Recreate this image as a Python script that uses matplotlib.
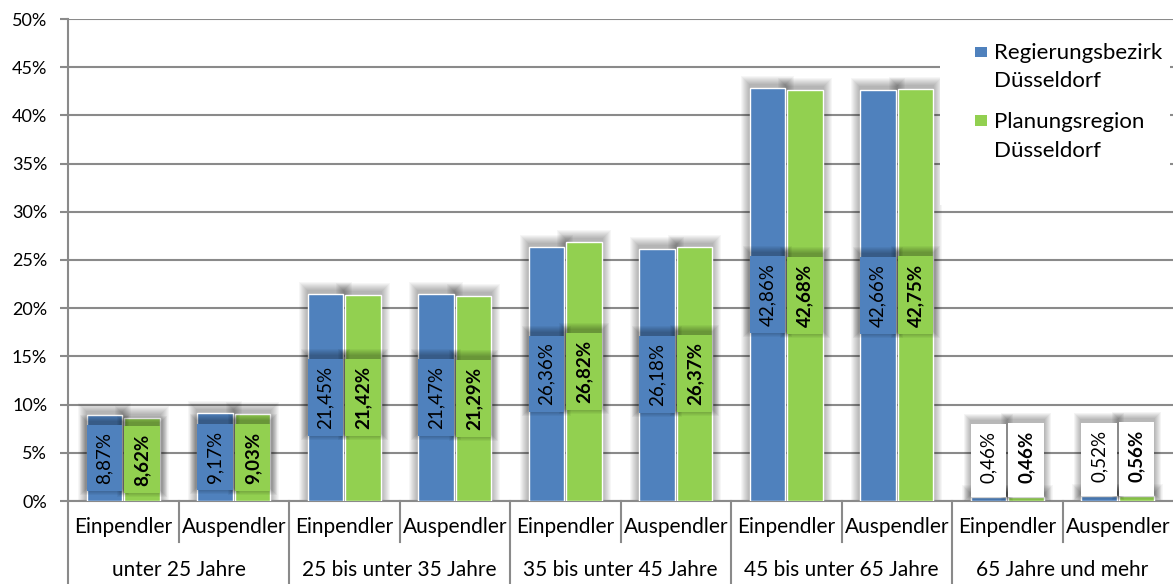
import matplotlib
matplotlib.use("Agg")
import matplotlib.pyplot as plt
from matplotlib.patches import Rectangle
from matplotlib.transforms import blended_transform_factory
import numpy as np

# Pendler nach Altersgruppen, Anteile in Prozent
age_groups = ["unter 25 Jahre", "25 bis unter 35 Jahre", "35 bis unter 45 Jahre",
              "45 bis unter 65 Jahre", "65 Jahre und mehr"]
directions = ["Einpendler", "Auspendler"]
series_names = [["Regierungsbezirk", "Düsseldorf"], ["Planungsregion", "Düsseldorf"]]
regierungsbezirk = [8.87, 9.17, 21.45, 21.47, 26.36, 26.18, 42.86, 42.66, 0.46, 0.52]
planungsregion = [8.62, 9.03, 21.42, 21.29, 26.82, 26.37, 42.68, 42.75, 0.46, 0.56]
y_ticks = list(range(0, 51, 5))

BLUE = "#4F81BD"
GREEN = "#92D050"
GRID = "#8A8A8A"
FONT = ["Lato", "DejaVu Sans"]
plt.rcParams["font.family"] = FONT

W, H = 1173, 584
fig = plt.figure(figsize=(W / 100, H / 100), dpi=100)
ax = fig.add_axes([68 / W, 83 / H, 1105 / W, 482 / H])

n = len(regierungsbezirk)
x = np.arange(n)
ax.set_xlim(-0.5, n - 0.5)
ax.set_ylim(0, 50)

# size of one pixel in data units
px_x = n / 1105
px_y = 50 / 482

ax.set_yticks(y_ticks)
ax.set_yticklabels([f"{t}%" for t in y_ticks])
ax.yaxis.grid(True, color=GRID, lw=1.5, zorder=0)
ax.set_axisbelow(True)
ax.tick_params(axis="y", length=6, width=1.5, color=GRID, pad=9, labelsize=13)
ax.set_xticks([])
for side in ("top", "right"):
    ax.spines[side].set_visible(False)
for side in ("left", "bottom"):
    ax.spines[side].set_color(GRID)
    ax.spines[side].set_linewidth(1.5)

width = 0.32
offset = 0.17


def soft_shadow(x0, y0, w, h, spread, lift, alpha, z):
    """Approximate a blurred drop shadow with stacked translucent rectangles."""
    for k in range(1, spread + 1):
        ax.add_patch(Rectangle((x0 - k * px_x, y0 - k * px_y + lift * px_y),
                               w + 2 * k * px_x, h + 2 * k * px_y,
                               facecolor="black", edgecolor="none",
                               alpha=alpha, zorder=z))


series = [(regierungsbezirk, -offset, BLUE, "normal"),
          (planungsregion, offset, GREEN, "bold")]

for vals, off, color, _ in series:
    for xi, v in zip(x, vals):
        soft_shadow(xi + off - width / 2, 0, width, v, 9, 3, 0.035, 2)
    ax.bar(x + off, vals, width, color=color, edgecolor="white", lw=1, zorder=3)

# value labels, rotated, inside the bars (above them when the bar is too short)
labels = []
for vals, off, color, weight in series:
    for xi, v in zip(x, vals):
        txt = f"{v:.2f}%".replace(".", ",")
        small = v < 5
        if small:
            t = ax.text(xi + off, v + 14 * px_y, txt, rotation=90, ha="center",
                        va="bottom", fontsize=13.5, fontweight=weight,
                        color="black", zorder=7)
        else:
            t = ax.text(xi + off, v / 2, txt, rotation=90, ha="center",
                        va="center", fontsize=13.5, fontweight=weight,
                        color="black", zorder=7)
        labels.append((t, xi + off, v, color, small))

fig.canvas.draw()
renderer = fig.canvas.get_renderer()
inv = ax.transData.inverted()
for t, xc, v, color, small in labels:
    bb = t.get_window_extent(renderer)
    (_, y0), (_, y1) = inv.transform([[bb.x0, bb.y0], [bb.x1, bb.y1]])
    top = y1 + 7 * px_y
    bottom = v - 0.05 if small else y0 - 7 * px_y
    face = "white" if small else color
    bx = xc - width / 2
    soft_shadow(bx, bottom, width, top - bottom, 7, 3, 0.045, 5)
    ax.add_patch(Rectangle((bx, bottom), width, top - bottom, facecolor=face,
                           edgecolor="none", zorder=6))

# two-level category axis
trans = blended_transform_factory(ax.transData, ax.transAxes)
row1, row2 = -0.054, -0.143
short_end, long_end = -0.085, -0.172
for g, grp in enumerate(age_groups):
    for d, name in enumerate(directions):
        ax.text(2 * g + d, row1, name, transform=trans, ha="center", va="center",
                fontsize=15, color="black")
    ax.text(2 * g + 0.5, row2, grp, transform=trans, ha="center", va="center",
            fontsize=15, color="black")
    ax.plot([2 * g + 0.5] * 2, [0, short_end], transform=trans, color=GRID,
            lw=1.5, clip_on=False)
    ax.plot([2 * g - 0.5] * 2, [0, long_end], transform=trans, color=GRID,
            lw=1.5, clip_on=False)

# legend panel
ax.add_patch(Rectangle((0.789, 0.614), 0.208, 0.38, transform=ax.transAxes,
                       facecolor="white", edgecolor="none", zorder=8))
legend_rows = [(47, 57, 59, 87, BLUE), (115, 126, 128, 157, GREEN)]
for (sq_top, sq_bot, base1, base2, color), lines in zip(legend_rows, series_names):
    fig.patches.append(Rectangle((975 / W, 1 - sq_bot / H), 12 / W, (sq_bot - sq_top) / H,
                                 transform=fig.transFigure, facecolor=color,
                                 edgecolor="none", zorder=9))
    for base, line in zip((base1, base2), lines):
        fig.text(994 / W, 1 - base / H, line, ha="left", va="baseline",
                 fontsize=16, color="black", zorder=9)

fig.savefig("out.png", dpi=100, facecolor="white")
